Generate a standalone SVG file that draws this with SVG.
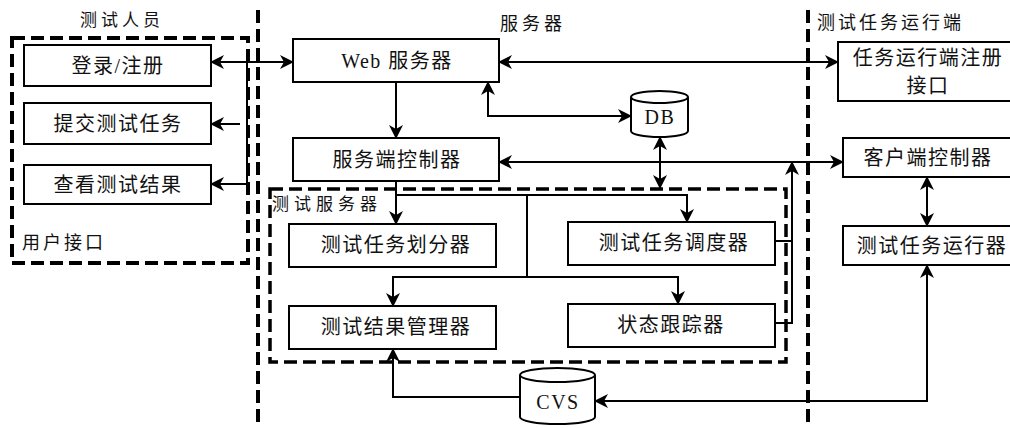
<svg xmlns="http://www.w3.org/2000/svg" width="1010" height="428" viewBox="0 0 1010 428">
<style>
.bg{fill:#fff}
.box{fill:#fff;stroke:#000;stroke-width:2}
.dash{fill:none;stroke:#000;stroke-width:4;stroke-dasharray:13 6}
.dash2{fill:none;stroke:#000;stroke-width:3.5;stroke-dasharray:13 6}
.ln{fill:none;stroke:#000;stroke-width:2}
.arr{marker-end:url(#ah)}
.dbl{marker-start:url(#ah);marker-end:url(#ah)}
.t{font-family:"Liberation Serif","Noto Sans CJK SC",serif;font-size:20px;letter-spacing:1.5px;text-anchor:middle;dominant-baseline:central;fill:#111}
.lb{font-family:"Liberation Serif","Noto Sans CJK SC",serif;font-size:17px;letter-spacing:4px;dominant-baseline:central;fill:#111}
</style>
<defs>
<marker id="ah" viewBox="0 0 14 14" refX="13" refY="7" markerWidth="14" markerHeight="14" markerUnits="userSpaceOnUse" orient="auto-start-reverse">
<path d="M0,0 L14,7 L0,14 L4,7 Z" fill="#000"/>
</marker>
</defs>
<rect class="bg" x="0" y="0" width="1010" height="428"/>

<g id="dividers">
<line class="dash" x1="258" y1="10" x2="258" y2="428"/>
<line class="dash" x1="808" y1="10" x2="808" y2="428"/>
</g>

<g id="region-labels">
<text class="lb" x="80" y="20">测试人员</text>
<text class="lb" x="500" y="24" style="font-size:18px">服务器</text>
<text class="lb" x="817" y="23" style="font-size:18px;letter-spacing:3px">测试任务运行端</text>
</g>

<g id="user-interface">
<path class="dash" d="M12,38 H248 V263 H12 Z"/>
<text class="lb" x="22" y="243" style="font-size:18px;letter-spacing:3px">用户接口</text>
</g>

<g id="test-server">
<path class="dash2" d="M270,189 H786 V362 H270 Z"/>
<text class="lb" x="272" y="204" style="letter-spacing:5px">测试服务器</text>
</g>

<g id="connectors">
<path class="ln dbl" d="M211,62 H293"/>
<path class="ln arr" d="M247,62 V184 H211"/>
<path class="ln arr" d="M240,124 H211"/>
<path class="ln dbl" d="M499,62 H838"/>
<path class="ln arr" d="M396,82 V138"/>
<path class="ln dbl" d="M488,82 V116 H631"/>
<path class="ln dbl" d="M499,162 H843"/>
<path class="ln dbl" d="M660,137 V188"/>
<path class="ln arr" d="M396,181 V224"/>
<path class="ln arr" d="M396,195 H687 V222"/>
<path class="ln" d="M527,195 V277"/>
<path class="ln arr" d="M527,277 H393 V306"/>
<path class="ln arr" d="M527,277 H678 V304"/>
<path class="ln" d="M775,241 H792"/>
<path class="ln arr" d="M775,323 H792 V162"/>
<path class="ln dbl" d="M927,177 V226"/>
<path class="ln dbl" d="M595,401 H927 V265"/>
<path class="ln arr" d="M521,397 H393 V349"/>
</g>

<g id="login">
<rect class="box" x="24" y="45" width="187" height="41"/>
<text class="t" x="118" y="66">登录/注册</text>
</g>
<g id="submit">
<rect class="box" x="24" y="103" width="187" height="41"/>
<text class="t" x="118" y="124">提交测试任务</text>
</g>
<g id="view">
<rect class="box" x="24" y="165" width="187" height="39"/>
<text class="t" x="118" y="185">查看测试结果</text>
</g>

<g id="web-server">
<rect class="box" x="293" y="39" width="206" height="43"/>
<text class="t" x="397" y="61">Web 服务器</text>
</g>
<g id="server-controller">
<rect class="box" x="293" y="138" width="206" height="43"/>
<text class="t" x="397" y="160">服务端控制器</text>
</g>

<g id="db">
<path class="box" d="M631,97 A28.5,6 0 0 1 688,97 V131 A28.5,6 0 0 1 631,131 Z"/>
<path class="ln" d="M631,97 A28.5,6 0 0 0 688,97"/>
<text class="t" x="660" y="117">DB</text>
</g>

<g id="partitioner">
<rect class="box" x="289" y="224" width="207" height="43"/>
<text class="t" x="396" y="245">测试任务划分器</text>
</g>
<g id="result-manager">
<rect class="box" x="289" y="306" width="207" height="43"/>
<text class="t" x="396" y="327">测试结果管理器</text>
</g>
<g id="scheduler">
<rect class="box" x="568" y="222" width="207" height="43"/>
<text class="t" x="674" y="243">测试任务调度器</text>
</g>
<g id="tracker">
<rect class="box" x="568" y="304" width="207" height="43"/>
<text class="t" x="671" y="325">状态跟踪器</text>
</g>

<g id="cvs">
<path class="box" d="M520,375 A37.5,7 0 0 1 595,375 V417 A37.5,7 0 0 1 520,417 Z"/>
<path class="ln" d="M520,375 A37.5,7 0 0 0 595,375"/>
<text class="t" x="558" y="402">CVS</text>
</g>

<g id="runner-register">
<rect class="box" x="838" y="42" width="180" height="59"/>
<text class="t" x="928" y="58">任务运行端注册</text>
<text class="t" x="928" y="86">接口</text>
</g>
<g id="client-controller">
<rect class="box" x="843" y="138" width="175" height="39"/>
<text class="t" x="928" y="158">客户端控制器</text>
</g>
<g id="task-runner">
<rect class="box" x="843" y="226" width="175" height="39"/>
<text class="t" x="932" y="246">测试任务运行器</text>
</g>
</svg>
